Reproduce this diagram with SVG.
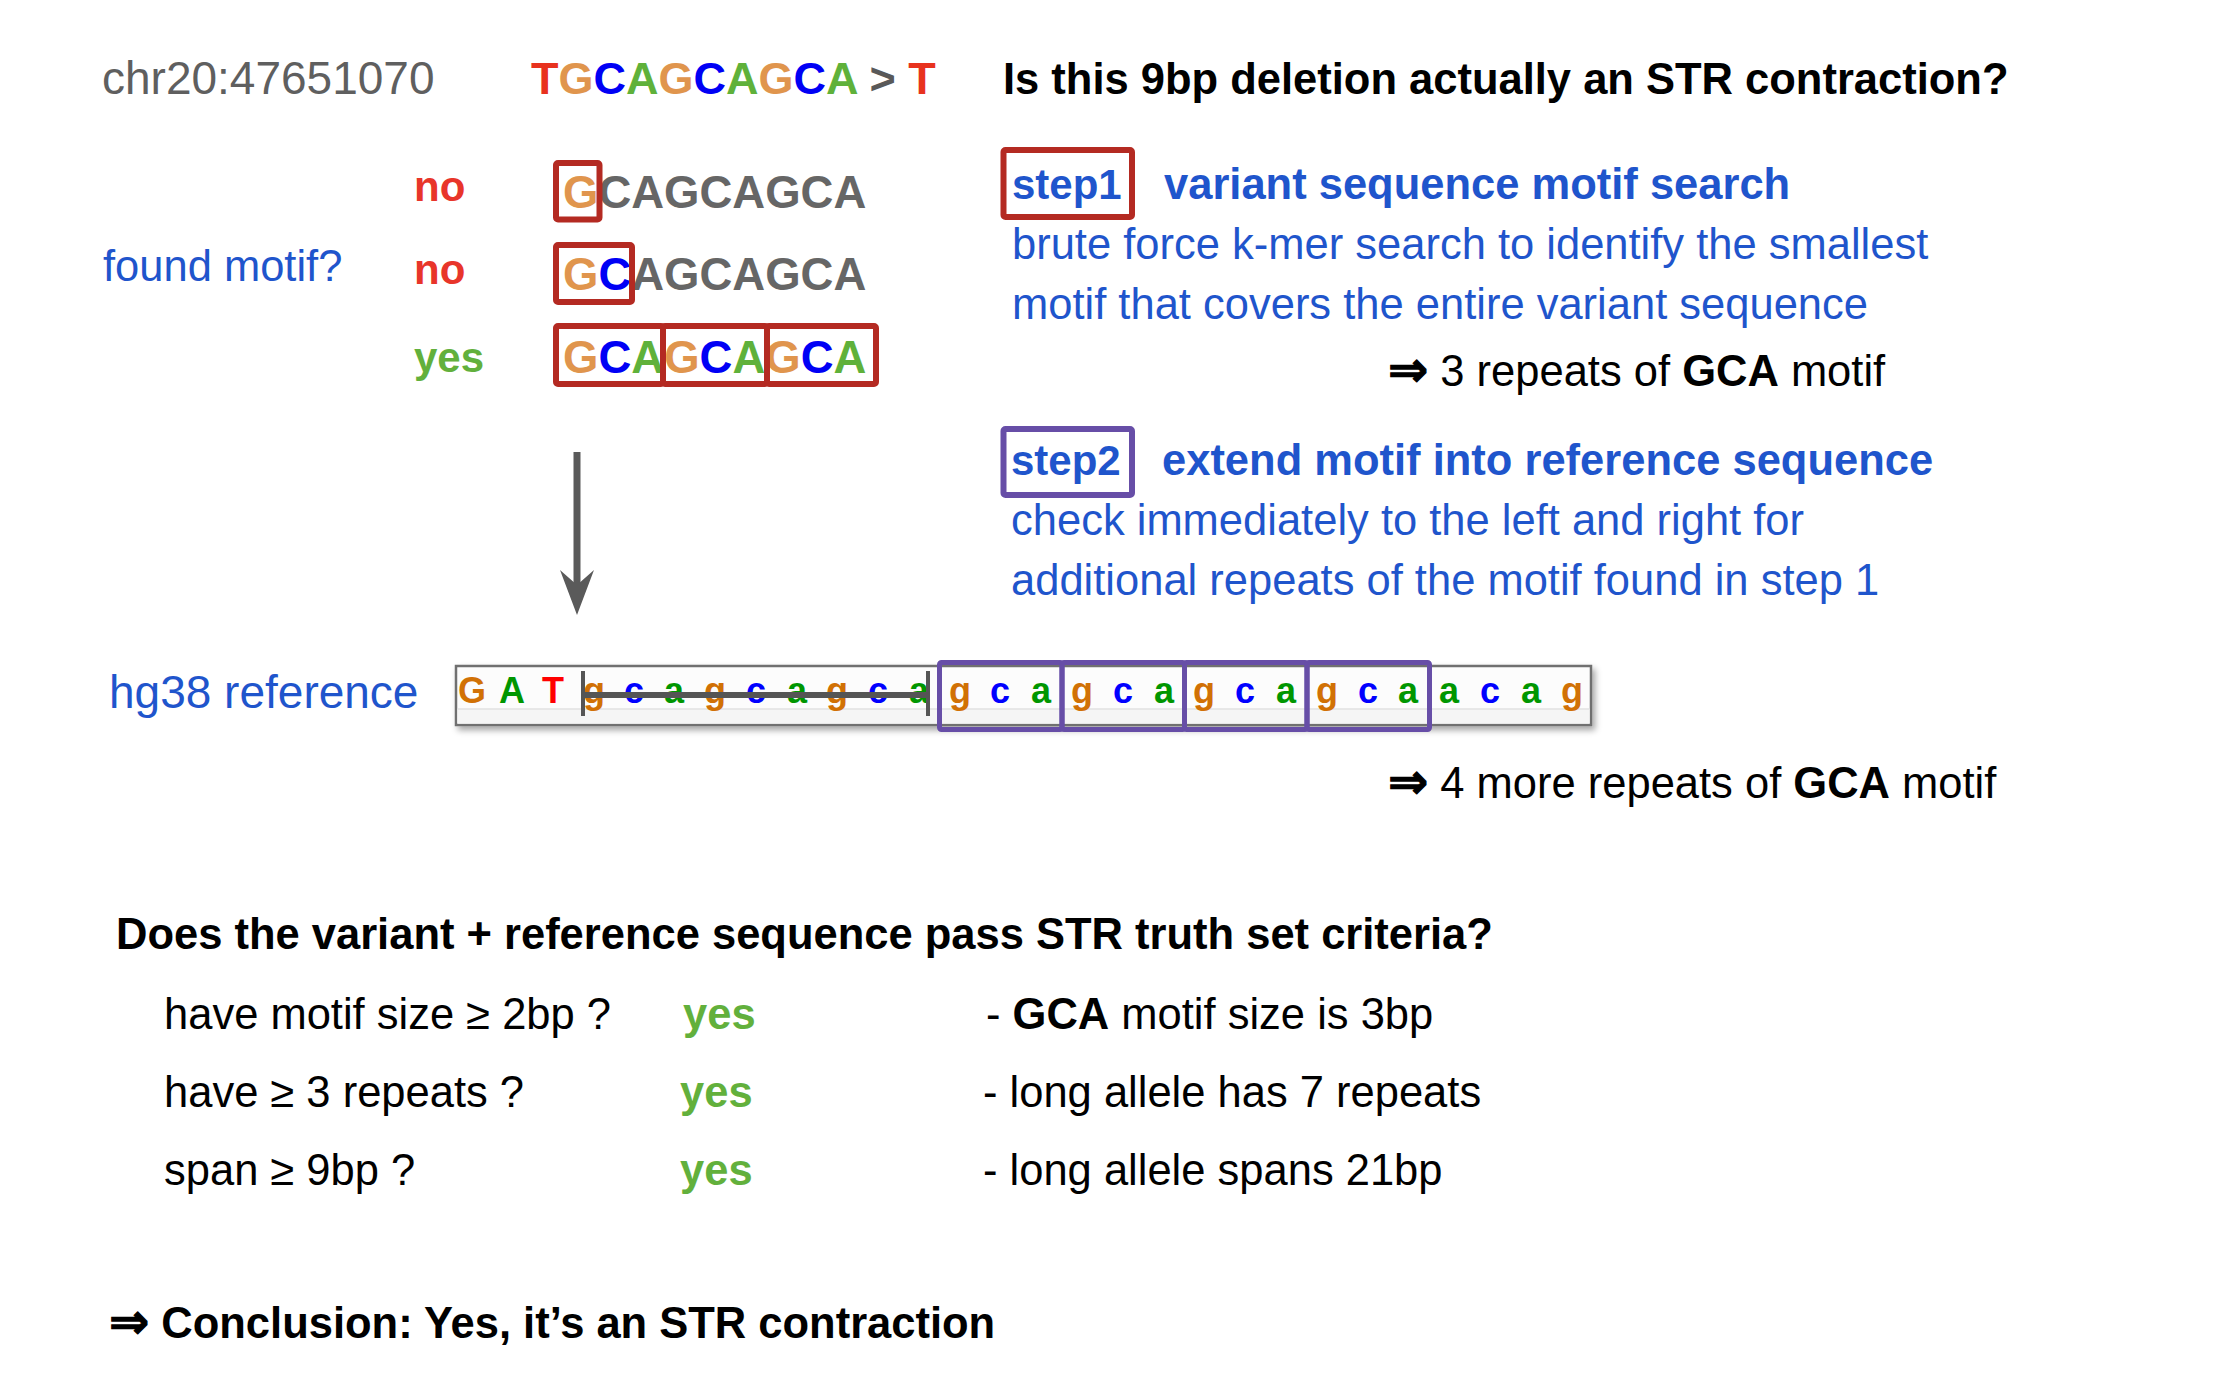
<svg xmlns="http://www.w3.org/2000/svg" width="2232" height="1380" viewBox="0 0 2232 1380">
<defs>
<style>
text{font-family:"Liberation Sans",Arial,sans-serif}
.b{font-weight:bold}
.blue{fill:#1f55cc}
.blk{fill:#000}
.t44{font-size:43.5px}
.red{fill:#e8352a}
.grn{fill:#62b03c}
.sG{fill:#e0954d}.sC{fill:#0000f5}.sA{fill:#5fb13a}.sT{fill:#e8321e}
.iG{fill:#d17105}.iA{fill:#009600}.iC{fill:#0000ff}.iT{fill:#ff0000}
.ref{font-size:36px;font-weight:bold;text-anchor:middle}
.rbox{fill:none;stroke:#b42a22;stroke-width:6}
.pbox{fill:none;stroke:#674ea7;stroke-width:5}
.arr{font-weight:bold;font-size:48px;font-family:"DejaVu Sans","Liberation Sans",sans-serif;stroke:#000;stroke-width:1.2}
</style>
<filter id="shadow" x="-5%" y="-30%" width="110%" height="170%">
<feDropShadow dx="3" dy="4" stdDeviation="3" flood-color="#000" flood-opacity="0.35"/>
</filter>
<marker id="ahead" markerUnits="userSpaceOnUse" viewBox="0 -18 46 36" markerWidth="46" markerHeight="36" refX="15" refY="0" orient="auto">
<path d="M0,-17 L45,0 L0,17 L15,0 Z" fill="#5a5a5a"/>
</marker>
</defs>
<rect width="2232" height="1380" fill="#fff"/>

<g id="header">
<text x="102" y="94" font-size="46" fill="#5f5f5f">chr20:47651070</text>
<text x="531" y="94" font-size="45" class="b"><tspan class="sT">T</tspan><tspan class="sG">G</tspan><tspan class="sC">C</tspan><tspan class="sA">A</tspan><tspan class="sG">G</tspan><tspan class="sC">C</tspan><tspan class="sA">A</tspan><tspan class="sG">G</tspan><tspan class="sC">C</tspan><tspan class="sA">A</tspan><tspan fill="#595959"> &gt; </tspan><tspan class="sT">T</tspan></text>
<text x="1003" y="94" class="b blk t44">Is this 9bp deletion actually an STR contraction?</text>
</g>

<g id="motif-search">
<text x="103" y="281" font-size="43.5" class="blue">found motif?</text>
<text x="414" y="201" font-size="42" class="b red">no</text>
<text x="414" y="284" font-size="42" class="b red">no</text>
<text x="414" y="372" font-size="42" class="b grn">yes</text>
<text x="563" y="208" font-size="45.5" class="b" fill="#666"><tspan class="sG">G</tspan>CAGCAGCA</text>
<rect class="rbox" x="556" y="163" width="43.5" height="56.5" rx="2"/>
<text x="563" y="290" font-size="45.5" class="b" fill="#666"><tspan class="sG">G</tspan><tspan class="sC">C</tspan>AGCAGCA</text>
<rect class="rbox" x="556" y="245" width="76" height="57" rx="2"/>
<text x="563" y="373" font-size="45.5" class="b"><tspan class="sG">G</tspan><tspan class="sC">C</tspan><tspan class="sA">A</tspan><tspan class="sG">G</tspan><tspan class="sC">C</tspan><tspan class="sA">A</tspan><tspan class="sG">G</tspan><tspan class="sC">C</tspan><tspan class="sA">A</tspan></text>
<rect class="rbox" x="556" y="326" width="107" height="58" rx="2"/>
<rect class="rbox" x="663" y="326" width="104" height="58" rx="2"/>
<rect class="rbox" x="767" y="326" width="109" height="58" rx="2"/>
</g>

<g id="step1">
<rect x="1003.5" y="150" width="128.5" height="67" rx="2" fill="none" stroke="#b42a22" stroke-width="6"/>
<text x="1012" y="199" class="b blue" font-size="42">step1</text>
<text x="1164" y="199" class="b blue t44">variant sequence motif search</text>
<text x="1012" y="259" class="blue t44">brute force k-mer search to identify the smallest</text>
<text x="1012" y="319" class="blue t44">motif that covers the entire variant sequence</text>
<text x="1388" y="386" class="blk t44"><tspan class="arr">⇒</tspan> 3 repeats of <tspan class="b">GCA</tspan> motif</text>
</g>

<g id="step2">
<rect x="1003.5" y="429" width="128.5" height="66" rx="2" fill="none" stroke="#674ea7" stroke-width="6"/>
<text x="1011" y="475" class="b blue" font-size="42">step2</text>
<text x="1162" y="475" class="b blue t44">extend motif into reference sequence</text>
<text x="1011" y="535" class="blue t44">check immediately to the left and right for</text>
<text x="1011" y="595" class="blue t44">additional repeats of the motif found in step 1</text>
</g>

<g id="hg38-reference">
<text x="109" y="708" font-size="46" class="blue">hg38 reference</text>
<g filter="url(#shadow)">
<rect x="456" y="666" width="1135" height="59" fill="#fcfcfc" stroke="#6f6f6f" stroke-width="2.5"/>
</g>
<rect x="457.5" y="709" width="1132" height="14.5" fill="#f5f5f5"/>
<line x1="457.5" y1="709" x2="1589.5" y2="709" stroke="#e2e2e2" stroke-width="1.5"/>
<g class="ref">
<text x="472" y="703" class="iG">G</text>
<text x="512" y="703" class="iA">A</text>
<text x="553" y="703" class="iT">T</text>
<text x="594" y="703" class="iG">g</text>
<text x="634" y="703" class="iC">c</text>
<text x="674" y="703" class="iA">a</text>
<text x="715" y="703" class="iG">g</text>
<text x="756" y="703" class="iC">c</text>
<text x="797" y="703" class="iA">a</text>
<text x="837" y="703" class="iG">g</text>
<text x="878" y="703" class="iC">c</text>
<text x="919" y="703" class="iA">a</text>
<text x="960" y="703" class="iG">g</text>
<text x="1000" y="703" class="iC">c</text>
<text x="1041" y="703" class="iA">a</text>
<text x="1082" y="703" class="iG">g</text>
<text x="1123" y="703" class="iC">c</text>
<text x="1164" y="703" class="iA">a</text>
<text x="1204" y="703" class="iG">g</text>
<text x="1245" y="703" class="iC">c</text>
<text x="1286" y="703" class="iA">a</text>
<text x="1327" y="703" class="iG">g</text>
<text x="1368" y="703" class="iC">c</text>
<text x="1408" y="703" class="iA">a</text>
<text x="1449" y="703" class="iA">a</text>
<text x="1490" y="703" class="iC">c</text>
<text x="1531" y="703" class="iA">a</text>
<text x="1572" y="703" class="iG">g</text>
</g>
<line x1="583" y1="695" x2="928" y2="695" stroke="#555" stroke-width="6"/>
<line x1="583" y1="671" x2="583" y2="716" stroke="#555" stroke-width="4"/>
<line x1="928" y1="671" x2="928" y2="716" stroke="#555" stroke-width="4"/>
<rect class="pbox" x="939.5" y="662.5" width="122.5" height="67" rx="2"/>
<rect class="pbox" x="1062" y="662.5" width="122.5" height="67" rx="2"/>
<rect class="pbox" x="1184.5" y="662.5" width="122.5" height="67" rx="2"/>
<rect class="pbox" x="1307" y="662.5" width="122.5" height="67" rx="2"/>
<text x="1388" y="798" class="blk t44"><tspan class="arr">⇒</tspan> 4 more repeats of <tspan class="b">GCA</tspan> motif</text>
</g>

<g id="criteria">
<text x="116" y="949" class="b blk t44">Does the variant + reference sequence pass STR truth set criteria?</text>
<text x="164" y="1029" class="blk t44">have motif size ≥ 2bp ?</text>
<text x="683" y="1029" class="b grn t44">yes</text>
<text x="986" y="1029" class="blk t44">- <tspan class="b">GCA</tspan> motif size is 3bp</text>
<text x="164" y="1107" class="blk t44">have ≥ 3 repeats ?</text>
<text x="680" y="1107" class="b grn t44">yes</text>
<text x="983" y="1107" class="blk t44">- long allele has 7 repeats</text>
<text x="164" y="1185" class="blk t44">span ≥ 9bp ?</text>
<text x="680" y="1185" class="b grn t44">yes</text>
<text x="983" y="1185" class="blk t44">- long allele spans 21bp</text>
</g>

<g id="conclusion">
<text x="109" y="1338" class="b blk t44"><tspan class="arr">⇒</tspan> Conclusion: Yes, it’s an STR contraction</text>
</g>

<g id="connectors">
<line x1="577" y1="452" x2="577" y2="585" stroke="#5a5a5a" stroke-width="7" marker-end="url(#ahead)"/>
</g>
</svg>
